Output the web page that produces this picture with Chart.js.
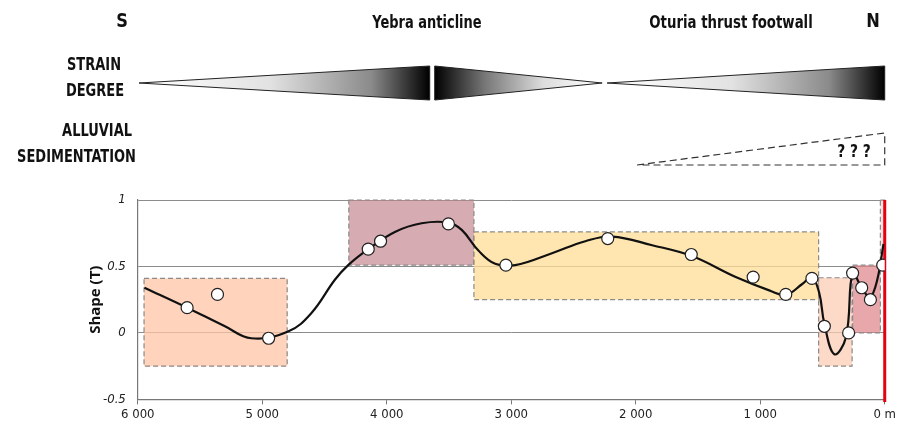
<!DOCTYPE html>
<html>
<head>
<meta charset="utf-8">
<script src="https://cdn.jsdelivr.net/npm/chart.js@4.4.1/dist/chart.umd.min.js"></script>
<style>
  html, body { margin: 0; padding: 0; background: #fff; }
  #wrap { width: 898px; height: 427px; position: relative; }
</style>
</head>
<body>
<div id="wrap"><canvas id="grafico"></canvas></div>
<script>
// distancia (m) y forma (T) de las muestras
const muestrasX = [5604, 5360, 4949, 4149, 4050, 3505, 3043, 2225, 1554, 1057, 795, 585, 485, 290, 258, 185, 115, 16];
const muestrasY = [0.19, 0.29, -0.04, 0.63, 0.69, 0.82, 0.51, 0.71, 0.59, 0.42, 0.29, 0.41, 0.05, 0.0, 0.45, 0.34, 0.25, 0.51];

// curva suavizada
const curvaX = [5947, 5604, 5300, 5089, 4793, 4605, 4417, 4310, 4149, 3935, 3720, 3505, 3398, 3264, 3129, 2968, 2673, 2405, 2190, 1868, 1554, 1197, 928, 795, 660, 585, 526, 485, 405, 311, 258, 185, 118, 60, 10];
const curvaY = [0.34, 0.19, 0.05, -0.04, 0.01, 0.15, 0.40, 0.51, 0.63, 0.76, 0.825, 0.83, 0.775, 0.62, 0.52, 0.51, 0.60, 0.69, 0.725, 0.66, 0.58, 0.42, 0.32, 0.286, 0.37, 0.42, 0.30, 0.07, -0.16, -0.03, 0.45, 0.34, 0.27, 0.40, 0.67];

// cajas de dominios: [xDesde, xHasta, yAbajo, yArriba]
const cajas = [
  [5950, 4800, -0.25, 0.41],
  [4305, 3300, 0.51, 1.0],
  [3300, 531, 0.25, 0.76],
  [531, 262, -0.25, 0.415],
  [258, 35, 0.0, 0.51],
  [35, 0, 0.5, 1.0]
];
const coloresCajas = ['rgba(255,196,165,0.75)', 'rgba(196,135,145,0.7)', 'rgba(255,222,150,0.75)', 'rgba(252,205,180,0.75)', 'rgba(222,130,135,0.7)', 'rgba(240,200,200,0.5)'];

const ticksX = [6000, 5000, 4000, 3000, 2000, 1000, 0];
const ticksY = [-0.5, 0, 0.5, 1];

// cunas de deformacion: [xInicio, xFin, ancho al inicio, ancho al final]
const cunasStrain = [
  [5990, 3655, 0, 1],
  [3615, 2270, 1, 0],
  [2230, 0, 0, 1]
];
const alluvial = [1990, 0];

const fuenteNarrow = '"Liberation Sans Narrow", "DejaVu Sans Condensed", "Open Sans", sans-serif';

function textoEstrecho(ctx, txt, x, y, escala) {
  ctx.save();
  ctx.translate(x, y);
  ctx.scale(escala, 1);
  ctx.fillText(txt, 0, 0);
  ctx.restore();
}

const decoracion = {
  id: 'decoracion',
  beforeDatasetsDraw(chart) {
    const { ctx, scales: { x, y } } = chart;
    ctx.save();
    cajas.forEach((c, i) => {
      const x1 = x.getPixelForValue(c[0]);
      const x2 = x.getPixelForValue(c[1]);
      const y1 = y.getPixelForValue(c[3]);
      const y2 = y.getPixelForValue(c[2]);
      ctx.fillStyle = coloresCajas[i];
      ctx.fillRect(x1, y1, x2 - x1, y2 - y1);
      ctx.setLineDash([5, 3]);
      ctx.strokeStyle = '#8a8a8a';
      ctx.lineWidth = 1.2;
      ctx.strokeRect(x1, y1, x2 - x1, y2 - y1);
    });
    ctx.restore();
  },
  afterDraw(chart) {
    const { ctx, scales: { x } } = chart;
    ctx.save();
    ctx.fillStyle = '#111';
    ctx.textBaseline = 'middle';
    ctx.textAlign = 'center';
    ctx.font = 'bold 20px ' + fuenteNarrow;
    textoEstrecho(ctx, 'S', 122, 22, 0.9);
    textoEstrecho(ctx, 'N', 873, 22, 0.9);
    ctx.font = 'bold 17px ' + fuenteNarrow;
    textoEstrecho(ctx, 'Yebra anticline', 427, 24, 0.85);
    textoEstrecho(ctx, 'Oturia thrust footwall', 731, 24, 0.87);
    textoEstrecho(ctx, 'STRAIN', 94, 66, 0.85);
    textoEstrecho(ctx, 'DEGREE', 95, 92, 0.85);
    ctx.textAlign = 'right';
    textoEstrecho(ctx, 'ALLUVIAL', 132, 132, 0.85);
    textoEstrecho(ctx, 'SEDIMENTATION', 136, 158, 0.85);

    const yc = 83, mitad = 17;
    cunasStrain.forEach(c => {
      const xa = x.getPixelForValue(c[0]);
      const xb = x.getPixelForValue(c[1]);
      const grad = ctx.createLinearGradient(xa, 0, xb, 0);
      if (c[3]) {
        grad.addColorStop(0, '#fff');
        grad.addColorStop(0.45, '#e2e2e2');
        grad.addColorStop(0.8, '#8a8a8a');
        grad.addColorStop(1, '#000');
      } else {
        grad.addColorStop(0, '#000');
        grad.addColorStop(0.3, '#777');
        grad.addColorStop(0.65, '#ddd');
        grad.addColorStop(1, '#fff');
      }
      ctx.beginPath();
      ctx.moveTo(xa, yc - mitad * c[2]);
      ctx.lineTo(xb, yc - mitad * c[3]);
      ctx.lineTo(xb, yc + mitad * c[3]);
      ctx.lineTo(xa, yc + mitad * c[2]);
      ctx.closePath();
      ctx.fillStyle = grad;
      ctx.fill();
      ctx.strokeStyle = '#222';
      ctx.lineWidth = 1;
      ctx.stroke();
    });

    const xa = x.getPixelForValue(alluvial[0]);
    const xb = x.getPixelForValue(alluvial[1]);
    ctx.beginPath();
    ctx.moveTo(xa, 165);
    ctx.lineTo(xb, 133);
    ctx.lineTo(xb, 165);
    ctx.closePath();
    ctx.setLineDash([7, 4]);
    ctx.strokeStyle = '#333';
    ctx.lineWidth = 1.2;
    ctx.stroke();
    ctx.setLineDash([]);
    ctx.fillStyle = '#111';
    ctx.textAlign = 'center';
    ctx.font = 'bold 17px ' + fuenteNarrow;
    textoEstrecho(ctx, '? ? ?', 854, 153, 0.9);
    ctx.restore();
  }
};

new Chart(document.getElementById('grafico'), {
  type: 'scatter',
  data: {
    datasets: [
      {
        data: muestrasX.map((v, i) => ({ x: v, y: muestrasY[i] })),
        pointRadius: 6,
        pointBackgroundColor: '#fff',
        pointBorderColor: '#222',
        pointBorderWidth: 1.2,
        order: 1
      },
      {
        type: 'line',
        data: curvaX.map((v, i) => ({ x: v, y: curvaY[i] })),
        borderColor: '#111',
        borderWidth: 2.2,
        pointRadius: 0,
        tension: 0.4,
        fill: false,
        order: 2
      },
      {
        type: 'line',
        data: [{ x: 0, y: -0.52 }, { x: 0, y: 1 }],
        borderColor: '#e3000f',
        borderWidth: 3,
        pointRadius: 0,
        clip: false,
        order: 3
      }
    ]
  },
  options: {
    responsive: true,
    maintainAspectRatio: false,
    animation: false,
    layout: { padding: { top: 200, right: 10, left: 87, bottom: 3 } },
    plugins: { legend: { display: false }, tooltip: { enabled: false } },
    scales: {
      x: {
        type: 'linear',
        reverse: true,
        min: 0,
        max: 6000,
        afterBuildTicks: (s) => { s.ticks = ticksX.map(v => ({ value: v })); },
        ticks: {
          color: '#222',
          font: { size: 13, family: fuenteNarrow },
          padding: 2,
          maxRotation: 0,
          callback: (v) => v === 0 ? '0 m' : (v / 1000) + ' 000'
        },
        grid: { drawOnChartArea: false, drawTicks: true, tickLength: 5, color: '#777' },
        border: { color: '#777', width: 1.2 }
      },
      y: {
        min: -0.5,
        max: 1,
        afterBuildTicks: (s) => { s.ticks = ticksY.map(v => ({ value: v })); },
        ticks: {
          color: '#222',
          font: { size: 13, style: 'italic', family: fuenteNarrow },
          padding: 12,
          callback: (v) => String(v)
        },
        grid: { color: '#8c8c8c', lineWidth: 1, drawTicks: false },
        border: { color: '#777', width: 1.2 },
        title: {
          display: true,
          text: 'Shape (T)',
          color: '#111',
          font: { size: 15, weight: 'bold', family: '"Open Sans", sans-serif' },
          padding: { top: 0, bottom: -14 }
        }
      }
    }
  },
  plugins: [decoracion]
});
</script>
</body>
</html>
